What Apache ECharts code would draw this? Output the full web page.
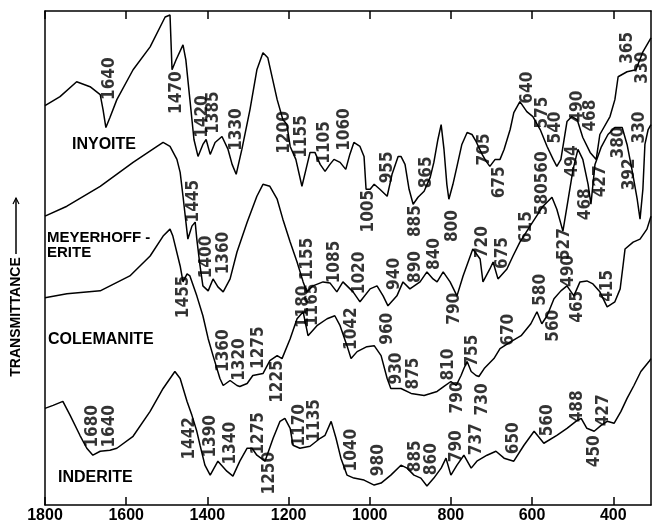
<!DOCTYPE html>
<html>
<head>
<meta charset="utf-8">
<script src="https://cdn.jsdelivr.net/npm/echarts@6/dist/echarts.min.js"></script>
<style>
html,body{margin:0;padding:0;background:#fff;}
#c{width:654px;height:524px;}
</style>
</head>
<body>
<div id="c"></div>
<script>
// Wavenumber axis (cm-1) tick labels
const xTicks = [1800, 1600, 1400, 1200, 1000, 800, 600, 400];

// Spectra: [wavenumber, transmittance (arbitrary offset units)]
const inyoite = [[1800,401],[1763,410],[1722,425],[1689,420],[1664,412],[1657,397],[1650,379],[1640,389],[1623,407],[1583,437],[1541,460],[1504,490],[1492,492],[1487,437],[1477,447],[1460,462],[1453,447],[1443,407],[1433,367],[1423,350],[1411,362],[1403,367],[1393,352],[1381,364],[1364,370],[1349,357],[1339,342],[1329,332],[1315,357],[1295,397],[1278,437],[1263,454],[1251,449],[1228,407],[1214,387],[1204,382],[1196,360],[1182,347],[1167,320],[1157,337],[1147,354],[1135,354],[1122,342],[1110,335],[1098,342],[1088,347],[1073,344],[1059,337],[1049,352],[1039,364],[1024,360],[1014,350],[1009,317],[999,317],[989,322],[975,317],[957,310],[945,332],[930,350],[923,350],[913,342],[903,317],[893,302],[881,309],[866,315],[851,329],[842,344],[832,367],[824,382],[817,357],[810,322],[805,307],[795,322],[785,340],[773,362],[760,374],[748,372],[738,365],[723,352],[713,345],[704,340],[691,347],[679,347],[669,357],[654,377],[645,394],[630,405],[613,395],[598,390],[580,377],[563,360],[548,347],[539,340],[529,347],[514,385],[502,390],[489,387],[475,369],[457,354],[442,347],[433,372],[408,390],[396,407],[388,430],[366,435],[344,437],[327,455],[307,469]];
const meyerhofferite = [[1800,290],[1746,300],[1664,320],[1583,344],[1524,360],[1509,364],[1492,360],[1475,347],[1467,334],[1460,310],[1450,274],[1448,267],[1438,280],[1430,284],[1426,267],[1418,240],[1411,220],[1398,215],[1386,227],[1374,219],[1361,214],[1344,227],[1327,254],[1302,284],[1278,310],[1263,322],[1246,320],[1228,307],[1214,287],[1196,264],[1179,244],[1164,224],[1155,214],[1140,220],[1115,224],[1098,223],[1081,214],[1066,224],[1041,214],[1024,204],[999,217],[982,220],[967,210],[955,200],[933,210],[918,224],[901,217],[876,224],[859,234],[844,227],[834,224],[819,234],[802,224],[785,210],[770,230],[746,257],[728,247],[721,224],[704,237],[696,244],[684,227],[662,237],[647,250],[630,264],[605,280],[573,300],[551,309],[539,297],[524,275],[511,307],[499,337],[487,357],[475,347],[462,322],[455,302],[445,342],[430,359],[413,372],[396,379],[378,379],[366,362],[354,337],[341,307],[334,287],[327,317],[322,362],[314,377],[307,382]];
const colemanite = [[1800,208],[1746,212],[1664,215],[1591,230],[1541,250],[1509,270],[1492,277],[1485,270],[1467,240],[1460,224],[1450,232],[1443,230],[1426,210],[1411,190],[1398,167],[1386,150],[1369,127],[1361,120],[1344,125],[1327,120],[1320,119],[1302,122],[1288,130],[1263,132],[1246,145],[1228,150],[1216,147],[1196,167],[1179,187],[1164,194],[1152,170],[1130,180],[1105,187],[1086,190],[1073,180],[1056,160],[1046,147],[1031,154],[1007,159],[989,160],[972,150],[957,127],[948,117],[923,117],[898,112],[866,110],[834,114],[817,119],[800,124],[787,120],[775,130],[768,137],[760,144],[750,134],[738,130],[731,129],[718,137],[694,147],[679,157],[652,164],[627,170],[603,182],[588,194],[576,182],[563,190],[546,207],[529,215],[514,220],[497,210],[482,224],[465,225],[450,222],[433,214],[415,199],[396,204],[383,217],[376,240],[371,257],[351,264],[334,267],[317,277],[307,290]];
const inderite = [[1800,97],[1780,100],[1756,104],[1738,90],[1714,70],[1697,57],[1682,50],[1664,54],[1640,55],[1623,57],[1583,69],[1541,94],[1509,117],[1480,134],[1467,127],[1450,104],[1438,90],[1426,74],[1418,60],[1406,40],[1393,30],[1374,44],[1352,34],[1337,29],[1320,44],[1302,57],[1290,57],[1278,50],[1258,44],[1238,67],[1221,84],[1209,87],[1196,77],[1189,60],[1172,57],[1147,59],[1122,67],[1110,70],[1095,84],[1083,67],[1071,47],[1056,30],[1039,27],[1014,25],[989,20],[972,22],[948,30],[923,40],[908,37],[891,30],[874,27],[859,19],[842,27],[824,37],[812,47],[800,30],[785,40],[768,50],[750,37],[736,44],[711,50],[689,54],[669,47],[645,44],[620,60],[595,74],[571,62],[539,70],[514,77],[492,84],[479,87],[465,77],[447,74],[430,80],[415,84],[398,82],[381,94],[366,107],[349,120],[332,134],[312,144],[307,147]];

// Band labels: [text, wavenumber where drawn, transmittance level where drawn]
const inyoiteBands = [['1640',1642,428],['1470',1475,414],['1420',1411,390],['1385',1384,394],['1330',1329,377],['1200',1209,374],['1155',1167,370],['1105',1110,364],['1060',1061,377],['1005',1002,295],['955',955,339],['885',886,285],['865',859,334],['800',797,280],['705',716,357],['675',681,324],['640',610,419],['575',573,394],['540',541,379],['490',487,400],['468',455,391],['560',573,339],['380',388,364],['365',364,459],['330',327,439]];
const meyerBands = [['1445',1435,305],['1400',1401,249],['1360',1361,253],['1155',1152,247],['1085',1086,244],['1020',1024,233],['940',938,232],['890',888,239],['840',839,252],['790',790,197],['720',721,264],['675',672,253],['615',613,279],['580',573,307],['527',521,262],['494',499,345],['468',467,302],['427',430,325],['392',359,332],['330',334,379]];
const colemaniteBands = [['1455',1458,209],['1360',1359,155],['1320',1320,146],['1275',1275,158],['1225',1226,124],['1180',1164,199],['1165',1142,201],['1042',1044,177],['960',957,177],['930',933,137],['875',891,132],['810',805,141],['790',783,108],['755',746,155],['730',721,106],['670',657,176],['580',580,216],['560',546,180],['490',511,235],['465',487,199],['415',415,220]];
const inderiteBands = [['1680',1684,79],['1640',1642,79],['1442',1443,67],['1390',1393,69],['1340',1342,62],['1275',1275,72],['1250',1246,32],['1170',1174,80],['1135',1135,85],['1040',1044,55],['980',977,45],['885',888,49],['860',847,46],['790',785,59],['737',736,66],['650',645,67],['560',563,85],['488',489,99],['450',445,54],['427',423,95]];

const mineralNames = ['INYOITE', 'MEYERHOFF -\nERITE', 'COLEMANITE', 'INDERITE'];

const chart = echarts.init(document.getElementById('c'));
const labelFont = '"Liberation Sans Narrow","DejaVu Sans Condensed","Liberation Sans",sans-serif';

function lineSeries(data) {
  return {
    type: 'line', data: data, showSymbol: false, symbol: 'none',
    lineStyle: { color: '#000', width: 1.5 }, animation: false, z: 3
  };
}
function bandSeries(bands) {
  return {
    type: 'scatter', symbolSize: 1, itemStyle: { color: 'rgba(0,0,0,0)' },
    data: bands.map(b => ({ name: b[0], value: [b[1], b[2]] })),
    label: {
      show: true, position: 'inside', rotate: 90, formatter: p => p.name,
      color: '#000', fontFamily: labelFont, fontWeight: 'bold', fontSize: 17
    },
    animation: false, silent: true, z: 4
  };
}

const axisCommon = {
  type: 'value', inverse: true, min: 307, max: 1800,
  axisLine: { show: true, onZero: false, lineStyle: { color: '#000', width: 1.5 } },
  axisTick: { show: true, inside: true, length: 8, customValues: xTicks, lineStyle: { color: '#000', width: 1.5 } },
  splitLine: { show: false }
};

chart.setOption({
  backgroundColor: '#fff',
  animation: false,
  grid: { left: 45, right: 3, top: 11, bottom: 17, show: false },
  xAxis: [
    Object.assign({}, axisCommon, {
      position: 'bottom',
      axisLabel: { show: true, customValues: xTicks, margin: 3, color: '#000',
        formatter: v => String(v),
        fontFamily: '"Liberation Sans",Arial,sans-serif', fontWeight: 'bold', fontSize: 16 }
    }),
    Object.assign({}, axisCommon, { position: 'top', axisLabel: { show: false } })
  ],
  yAxis: [
    { type: 'value', min: 0, max: 496, position: 'left',
      axisLine: { show: true, onZero: false, lineStyle: { color: '#000', width: 1.5 } },
      axisTick: { show: false }, axisLabel: { show: false }, splitLine: { show: false } },
    { type: 'value', min: 0, max: 496, position: 'right',
      axisLine: { show: true, onZero: false, lineStyle: { color: '#000', width: 1.5 } },
      axisTick: { show: false }, axisLabel: { show: false }, splitLine: { show: false } }
  ],
  series: [
    lineSeries(inyoite), lineSeries(meyerhofferite), lineSeries(colemanite), lineSeries(inderite),
    bandSeries(inyoiteBands), bandSeries(meyerBands), bandSeries(colemaniteBands), bandSeries(inderiteBands)
  ],
  graphic: [
    { type: 'text', left: 72, top: 137, style: { text: mineralNames[0], fill: '#000', font: 'bold 16px "Liberation Sans",Arial,sans-serif' } },
    { type: 'text', left: 47, top: 230, style: { text: mineralNames[1], fill: '#000', lineHeight: 15, font: 'bold 15px "Liberation Sans",Arial,sans-serif' } },
    { type: 'text', left: 48, top: 332, style: { text: mineralNames[2], fill: '#000', font: 'bold 16px "Liberation Sans",Arial,sans-serif' } },
    { type: 'text', left: 58, top: 470, style: { text: mineralNames[3], fill: '#000', font: 'bold 16px "Liberation Sans",Arial,sans-serif' } },
    { type: 'text', x: 16, y: 317, rotation: Math.PI / 2,
      style: { text: 'TRANSMITTANCE', fill: '#000', align: 'center', verticalAlign: 'middle', font: 'bold 14px "Liberation Sans",Arial,sans-serif' } },
    { type: 'line', shape: { x1: 16, y1: 254, x2: 16, y2: 198 }, style: { stroke: '#000', lineWidth: 1.5 } },
    { type: 'polyline', shape: { points: [[13, 204], [16, 198], [19, 204]] }, style: { stroke: '#000', lineWidth: 1.2, fill: null } }
  ]
});
</script>
</body>
</html>
